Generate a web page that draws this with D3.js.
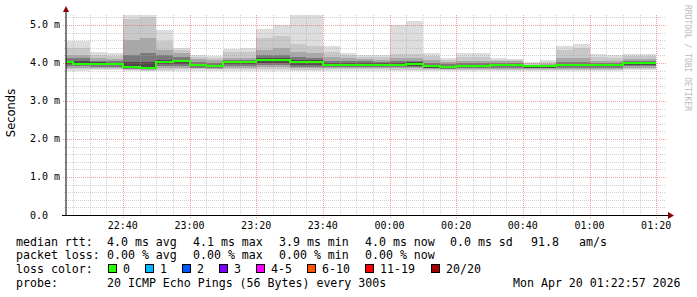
<!DOCTYPE html>
<html>
<head>
<meta charset="utf-8">
<script src="https://cdn.jsdelivr.net/npm/d3@7"></script>
<style>
  body { margin: 0; background: #fff; }
  text { font-family: "DejaVu Sans Mono", monospace; fill: #000; }
</style>
</head>
<body>
<div id="wrapper"></div>
<script>
// 5-minute intervals (end time of each step), 20 pings each
const segEnds = ["22:25","22:30","22:35","22:40","22:45","22:50","22:55",
  "23:00","23:05","23:10","23:15","23:20","23:25","23:30","23:35","23:40","23:45","23:50","23:55",
  "00:00","00:05","00:10","00:15","00:20","00:25","00:30","00:35","00:40","00:45","00:50","00:55",
  "01:00","01:05","01:10","01:15","01:20"]

// smoke band edges in ms (outer -> inner)
const pMax = [4.57,4.57,4.29,4.26,5.27,5.27,4.87,4.40,4.22,4.19,4.38,4.40,4.90,4.99,5.27,5.27,4.45,4.26,4.22,4.20,4.99,5.10,4.26,4.13,4.25,4.26,4.13,4.11,4.02,4.09,4.45,4.51,4.24,4.20,4.24,4.24]
const pHi2 = [4.40,4.40,4.22,4.19,5.17,5.20,4.57,4.35,4.16,4.14,4.30,4.30,4.66,4.71,4.50,4.44,4.30,4.20,4.17,4.16,4.24,4.24,4.18,4.08,4.15,4.15,4.09,4.08,3.99,4.03,4.35,4.40,4.16,4.14,4.18,4.18]
const pHi3 = [4.22,4.22,4.12,4.10,4.60,4.65,4.35,4.25,4.10,4.07,4.14,4.14,4.35,4.40,4.30,4.25,4.15,4.12,4.10,4.09,4.12,4.12,4.08,4.02,4.05,4.05,4.04,4.04,3.96,3.98,4.12,4.12,4.06,4.06,4.10,4.10]
const pHi4 = [4.12,4.12,4.06,4.05,4.20,4.25,4.20,4.15,4.03,4.01,4.08,4.08,4.20,4.22,4.15,4.14,4.06,4.05,4.04,4.03,4.05,4.06,4.00,3.97,4.00,4.00,4.00,4.00,3.94,3.95,4.02,4.02,4.00,4.00,4.06,4.06]
const pHi5 = [4.06,4.05,4.02,4.01,4.02,4.02,4.08,4.08,3.98,3.96,4.05,4.05,4.12,4.13,4.08,4.08,4.00,4.00,4.00,3.99,4.01,4.02,3.95,3.93,3.96,3.96,3.98,3.98,3.92,3.93,3.97,3.97,3.97,3.97,4.03,4.03]
const median = [4.02,3.98,3.98,3.98,3.90,3.87,4.02,4.04,3.94,3.91,4.03,4.03,4.08,4.08,4.02,4.02,3.96,3.96,3.96,3.96,3.96,3.98,3.92,3.89,3.93,3.93,3.96,3.96,3.91,3.91,3.94,3.94,3.94,3.94,4.01,4.01]
const pLo5 = [3.97,3.95,3.94,3.94,3.87,3.85,3.97,3.98,3.91,3.89,3.97,3.97,4.00,4.00,3.96,3.96,3.93,3.93,3.92,3.92,3.92,3.93,3.88,3.87,3.89,3.89,3.92,3.92,3.88,3.88,3.91,3.91,3.91,3.91,3.96,3.96]
const pLo4 = [3.93,3.92,3.90,3.90,3.85,3.84,3.92,3.93,3.88,3.87,3.92,3.92,3.95,3.95,3.90,3.90,3.89,3.89,3.89,3.89,3.89,3.89,3.86,3.85,3.86,3.86,3.88,3.88,3.86,3.86,3.88,3.88,3.88,3.88,3.91,3.91]
const pLo3 = [3.88,3.88,3.87,3.87,3.83,3.82,3.87,3.88,3.86,3.85,3.88,3.88,3.90,3.90,3.86,3.86,3.86,3.86,3.86,3.86,3.86,3.86,3.84,3.83,3.84,3.84,3.85,3.85,3.84,3.84,3.85,3.85,3.85,3.85,3.87,3.87]
const pLo2 = [3.84,3.84,3.84,3.84,3.81,3.80,3.82,3.84,3.83,3.83,3.84,3.84,3.85,3.85,3.82,3.82,3.83,3.83,3.83,3.83,3.82,3.82,3.82,3.81,3.82,3.82,3.82,3.82,3.82,3.82,3.82,3.82,3.82,3.82,3.84,3.84]
const pMin = [3.80,3.80,3.81,3.81,3.79,3.78,3.79,3.80,3.80,3.80,3.80,3.80,3.80,3.80,3.78,3.78,3.80,3.80,3.80,3.80,3.78,3.78,3.79,3.79,3.79,3.79,3.80,3.80,3.80,3.80,3.78,3.78,3.79,3.79,3.81,3.81]

const yTickLabels = ["0.0", "1.0 m", "2.0 m", "3.0 m", "4.0 m", "5.0 m"]
const lossLabels = ["0", "1", "2", "3", "4-5", "6-10", "11-19", "20/20"]
const lossColors = ["#26ff00", "#00b8ff", "#0059ff", "#7e00ff", "#ff00ff", "#ff5500", "#ff0000", "#a10000"]
const lossX = [108, 145, 182, 219, 256, 307, 365, 431]

const statsRtt = [["median rtt:", 16], ["4.0 ms avg", 107], ["4.1 ms max", 193], ["3.9 ms min", 279],
  ["4.0 ms now", 365], ["0.0 ms sd", 450], ["91.8", 531], ["am/s", 579]]
const statsLoss = [["packet loss:", 16], ["0.00 % avg", 107], ["0.00 % max", 193], ["0.00 % min", 279], ["0.00 % now", 365]]

const parseT = s => {
  const h = +s.slice(0, 2)
  return new Date(2026, 3, h >= 12 ? 19 : 20, h, +s.slice(3, 5))
}

const width = 697
const height = 297
const startT = new Date(2026, 3, 19, 22, 22, 57)
const endT = new Date(2026, 3, 20, 1, 22, 57)

const svg = d3.select("#wrapper").append("svg")
    .attr("width", width)
    .attr("height", height)

svg.append("rect").attr("width", width).attr("height", height).attr("fill", "#fff")

const xScale = d3.scaleTime()
    .domain([startT, endT])
    .range([66, 666])

const yScale = d3.scaleLinear()
    .domain([0, 5.263])
    .range([215, 15])

// build segments
const segs = segEnds.map((s, i) => {
  const end = parseT(s)
  let start = d3.timeMinute.offset(end, -5)
  if (start < startT) start = startT
  return {start, end, i}
})

// smoke
const bands = [
  {hi: pMax, lo: pMin, color: "#dddddd"},
  {hi: pHi2, lo: pLo2, color: "#c8c8c8"},
  {hi: pHi3, lo: pLo3, color: "#a8a8a8"},
  {hi: pHi4, lo: pLo4, color: "#7a7a7a"},
  {hi: pHi5, lo: pLo5, color: "#4c4c4c"},
]
const smoke = svg.append("g").attr("shape-rendering", "crispEdges")
bands.forEach(b => {
  smoke.selectAll(null)
    .data(segs).enter().append("rect")
      .attr("x", d => xScale(d.start))
      .attr("width", d => xScale(d.end) - xScale(d.start))
      .attr("y", d => yScale(b.hi[d.i]))
      .attr("height", d => yScale(b.lo[d.i]) - yScale(b.hi[d.i]))
      .attr("fill", b.color)
})

// grid
const grid = svg.append("g").attr("shape-rendering", "crispEdges")
const minorY = d3.range(0.2, 5.21, 0.2).filter(v => Math.abs(v - Math.round(v)) > 0.01)
grid.selectAll(null).data(minorY).enter().append("line")
    .attr("x1", 64).attr("x2", 666)
    .attr("y1", d => Math.round(yScale(d)) + 0.5).attr("y2", d => Math.round(yScale(d)) + 0.5)
    .attr("stroke", "rgba(165,165,165,0.5)").attr("stroke-dasharray", "1,1")
const minorX = d3.timeMinute.every(5).range(startT, endT).filter(d => d.getMinutes() % 20 != 0)
grid.selectAll(null).data(minorX).enter().append("line")
    .attr("x1", d => Math.round(xScale(d)) + 0.5).attr("x2", d => Math.round(xScale(d)) + 0.5)
    .attr("y1", 15).attr("y2", 217)
    .attr("stroke", "rgba(165,165,165,0.5)").attr("stroke-dasharray", "1,1")
const majorY = [1, 2, 3, 4, 5]
grid.selectAll(null).data(majorY).enter().append("line")
    .attr("x1", 63).attr("x2", 666)
    .attr("y1", d => Math.round(yScale(d)) + 0.5).attr("y2", d => Math.round(yScale(d)) + 0.5)
    .attr("stroke", "rgba(225,80,80,0.55)").attr("stroke-dasharray", "1,1")
const majorX = d3.timeMinute.every(20).range(startT, endT)
grid.selectAll(null).data(majorX).enter().append("line")
    .attr("x1", d => Math.round(xScale(d)) + 0.5).attr("x2", d => Math.round(xScale(d)) + 0.5)
    .attr("y1", 15).attr("y2", 218)
    .attr("stroke", "rgba(225,80,80,0.55)").attr("stroke-dasharray", "1,1")

// median
const medPts = segs.map(d => [xScale(d.start), Math.round(yScale(median[d.i]))])
medPts.push([xScale(segs[segs.length - 1].end), Math.round(yScale(median[median.length - 1]))])
svg.append("path")
    .attr("d", d3.line().curve(d3.curveStepAfter)(medPts))
    .attr("fill", "none")
    .attr("stroke", lossColors[0])
    .attr("stroke-width", 2)
    .attr("shape-rendering", "crispEdges")

// axes
svg.append("line").attr("x1", 66).attr("x2", 66).attr("y1", 216).attr("y2", 10)
    .attr("stroke", "#000")
svg.append("line").attr("x1", 62).attr("x2", 669).attr("y1", 215.5).attr("y2", 215.5)
    .attr("stroke", "#000")
svg.append("path").attr("d", "M63,12 L69,12 L66,6 Z").attr("fill", "#8b0000")
svg.append("path").attr("d", "M668,212 L668,219 L674,215.5 Z").attr("fill", "#8b0000")

// tick labels
svg.selectAll(".ylab").data(yTickLabels).enter().append("text")
    .attr("class", "ylab")
    .attr("x", 30)
    .attr("y", (d, i) => yScale(i) + 3.5)
    .style("font-size", "10px")
    .text(d => d)

svg.selectAll(".xlab").data(majorX).enter().append("text")
    .attr("class", "xlab")
    .attr("x", d => xScale(d))
    .attr("y", 229)
    .attr("text-anchor", "middle")
    .style("font-size", "10px")
    .text(d3.timeFormat("%H:%M"))

svg.append("text")
    .attr("transform", "translate(15,113) rotate(-90)")
    .attr("text-anchor", "middle")
    .style("font-family", "'DejaVu Sans', sans-serif")
    .style("font-size", "11.5px")
    .text("Seconds")

svg.append("text")
    .attr("transform", "translate(685,5) rotate(90)")
    .style("font-size", "8px")
    .style("fill", "#bbbbbb")
    .text("RRDTOOL / TOBI OETIKER")

// legend
const legend = svg.append("g").style("font-size", "11.6px")
legend.selectAll(null).data(statsRtt).enter().append("text")
    .attr("x", d => d[1]).attr("y", 245.5).text(d => d[0])
legend.selectAll(null).data(statsLoss).enter().append("text")
    .attr("x", d => d[1]).attr("y", 259).text(d => d[0])
legend.append("text").attr("x", 16).attr("y", 272.5).text("loss color:")
legend.selectAll(null).data(lossLabels).enter().append("rect")
    .attr("x", (d, i) => lossX[i] + 0.5).attr("y", 264.5)
    .attr("width", 8).attr("height", 8)
    .attr("fill", (d, i) => lossColors[i])
    .attr("stroke", "#000")
legend.selectAll(null).data(lossLabels).enter().append("text")
    .attr("x", (d, i) => lossX[i] + 15).attr("y", 272.5).text(d => d)
legend.append("text").attr("x", 16).attr("y", 286.5).text("probe:")
legend.append("text").attr("x", 107).attr("y", 286.5).attr("xml:space", "preserve")
    .text("20 ICMP Echo Pings (56 Bytes) every 300s")
legend.append("text").attr("x", 513).attr("y", 286.5).text("Mon Apr 20 01:22:57 2026")
</script>
</body>
</html>
